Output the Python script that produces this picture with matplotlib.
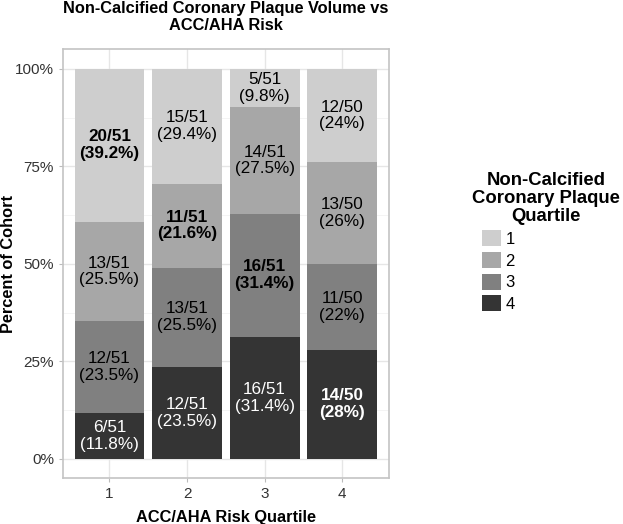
import numpy as np
import matplotlib.pyplot as plt
from matplotlib.patches import Patch
from matplotlib.ticker import FuncFormatter, MultipleLocator

plt.rcParams['font.family'] = ['Liberation Sans', 'DejaVu Sans']

# risk quartiles on x, plaque quartiles stacked (4 at bottom)
risk = ['1', '2', '3', '4']
totals = [51, 51, 51, 50]
q1 = [20, 15, 5, 12]
q2 = [13, 11, 14, 13]
q3 = [12, 13, 16, 11]
q4 = [6, 12, 16, 14]
pct1 = ['39.2%', '29.4%', '9.8%', '24%']
pct2 = ['25.5%', '21.6%', '27.5%', '26%']
pct3 = ['23.5%', '25.5%', '31.4%', '22%']
pct4 = ['11.8%', '23.5%', '31.4%', '28%']
# which cell is bold in each bar (plaque quartile)
bold_q = [1, 2, 3, 4]

colors = {1: '#cecece', 2: '#a7a7a7', 3: '#808080', 4: '#343434'}
counts = {1: q1, 2: q2, 3: q3, 4: q4}
pcts = {1: pct1, 2: pct2, 3: pct3, 4: pct4}

fig = plt.figure(figsize=(6.23, 5.24), dpi=100)
ax = fig.add_axes([0.101, 0.087, 0.523, 0.819])

x = np.arange(1, 5)
bottom = np.zeros(4)
for q in [4, 3, 2, 1]:
    h = np.array(counts[q]) / np.array(totals)
    ax.bar(x, h, bottom=bottom, width=0.9, color=colors[q], zorder=2)
    for i in range(4):
        weight = 'bold' if bold_q[i] == q else 'normal'
        tc = 'white' if q == 4 else 'black'
        ax.text(x[i], bottom[i] + h[i] / 2,
                f'{counts[q][i]}/{totals[i]}\n({pcts[q][i]})',
                ha='center', va='center', fontsize=12.3, color=tc,
                weight=weight, linespacing=1.15, zorder=3)
    bottom += h

ax.set_xlim(0.4, 4.6)
ax.set_ylim(-0.05, 1.05)
ax.set_xticks(x)
ax.set_xticklabels(risk)
ax.yaxis.set_major_locator(MultipleLocator(0.25))
ax.yaxis.set_minor_locator(MultipleLocator(0.125))
ax.yaxis.set_major_formatter(FuncFormatter(lambda v, p: f'{int(round(v * 100))}%'))
ax.grid(True, which='major', color='#e6e6e6', linewidth=1.0, zorder=0)
ax.grid(True, which='minor', axis='y', color='#f2f2f2', linewidth=0.6, zorder=0)
ax.tick_params(axis='both', which='major', colors='#bbbbbb', labelcolor='#333333',
               labelsize=11, length=3)
ax.tick_params(axis='y', which='minor', length=0)
for s in ax.spines.values():
    s.set_color('#c4c4c4')
    s.set_linewidth(1.2)

ax.set_title('Non-Calcified Coronary Plaque Volume vs\nACC/AHA Risk',
             fontsize=11.8, weight='bold', pad=14, linespacing=1.15)
ax.set_xlabel('ACC/AHA Risk Quartile', fontsize=11.8, weight='bold', labelpad=6)
ax.set_ylabel('Percent of Cohort', fontsize=11.8, weight='bold')
ax.yaxis.set_label_coords(-0.143, 0.5)

handles = [Patch(facecolor=colors[q], edgecolor='none', label=str(q)) for q in [1, 2, 3, 4]]
leg = fig.legend(handles=handles, loc='upper left', bbox_to_anchor=(0.774, 0.672),
                 title='Non-Calcified\nCoronary Plaque\nQuartile', frameon=False,
                 fontsize=12, title_fontproperties={'weight': 'bold', 'size': 13.3},
                 handlelength=1.1, handleheight=1.1, handletextpad=0.3,
                 labelspacing=0.3, borderaxespad=0, borderpad=0)
leg._legend_box.align = 'left'
leg.get_title().set_multialignment('center')
leg.get_title().set_linespacing(1.1)
leg.get_title().set_position((-10, 0))

fig.savefig('out.png', dpi=100)
